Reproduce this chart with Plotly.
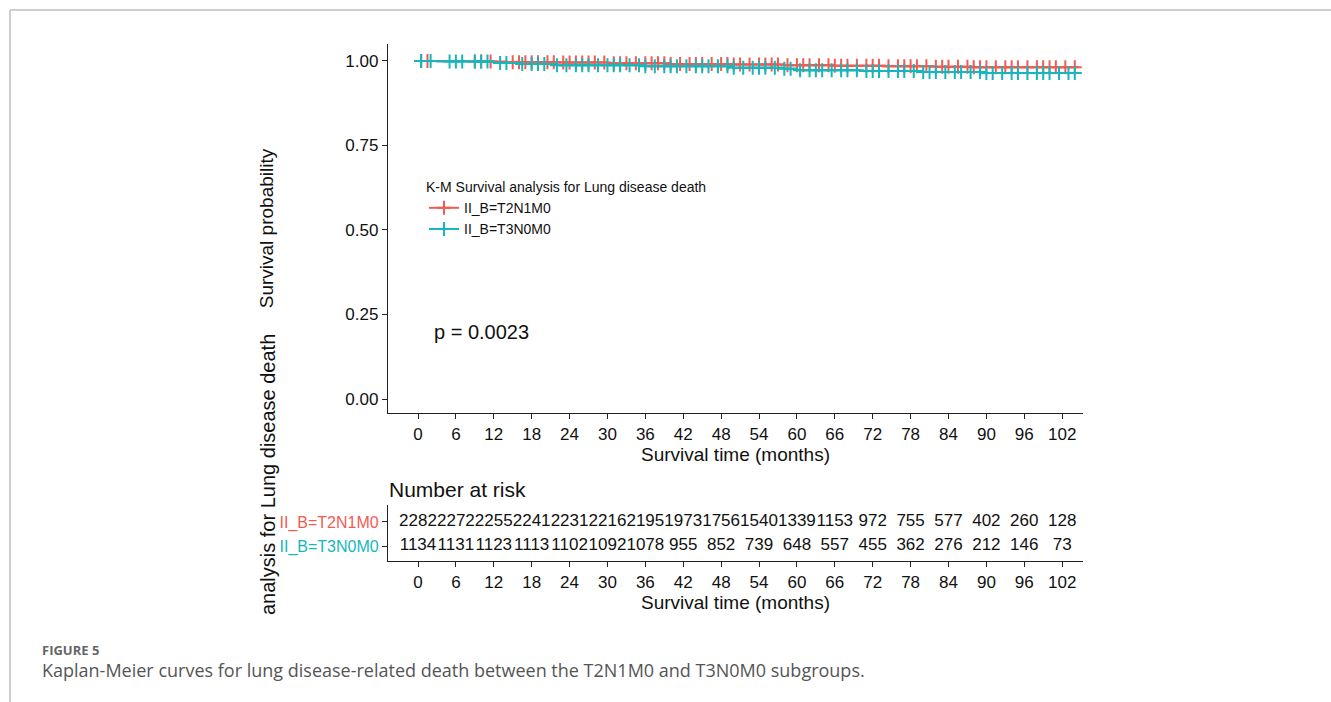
import numpy as np
import plotly.graph_objects as go

# ---------------- data ----------------
months_ticks = [0, 6, 12, 18, 24, 30, 36, 42, 48, 54, 60, 66, 72, 78, 84, 90, 96, 102]
groups = ["II_B=T2N1M0", "II_B=T3N0M0"]

# Kaplan-Meier step points (time, survival)
red_times = [0, 8, 14, 22, 30, 40, 50, 58, 66, 74, 82, 88, 104.6]
red_surv = [1.0, 0.998, 0.996, 0.995, 0.993, 0.991, 0.989, 0.987, 0.986, 0.984, 0.983, 0.981, 0.981]
teal_times = [0, 3, 12, 16, 22, 36, 50, 58, 60, 70, 80, 90, 104.6]
teal_surv = [1.0, 0.998, 0.994, 0.991, 0.987, 0.984, 0.980, 0.977, 0.972, 0.970, 0.967, 0.964, 0.964]

# censoring times
red_censor = [0.5, 1.5, 9, 10, 11.5, 15, 16, 17, 18, 19, 20.5, 21.5, 23, 24, 25, 26, 27, 28, 29.5, 31, 32, 33,
              34.5, 36, 37, 38, 39, 40, 41.5, 43, 44, 45, 46.5, 48, 49, 50, 51, 52.5, 54, 55, 56, 57, 58.5, 60,
              61, 62, 63.5, 65, 66, 67, 68, 69.5, 71, 72, 73, 74.5, 76, 77, 78, 79, 80.5, 82, 83, 84, 85.5, 87,
              88, 89, 90, 91.5, 93, 94, 95, 96.5, 98, 99, 100, 101, 102.5, 104]
teal_censor = [0.5, 2, 5, 6, 7, 9, 10, 11, 13, 14, 16.5, 18, 19, 20, 22, 23.5, 25, 26, 27, 28.5, 30, 31, 32,
               33.5, 35, 36, 37.5, 39, 40, 41, 42.5, 44, 45, 46, 47.5, 49, 50, 51.5, 53, 54, 55, 56.5, 58, 59,
               60.5, 62, 63, 64, 65.5, 67, 68, 69.5, 71, 72, 73, 74.5, 76, 77, 78.5, 80, 81, 82, 83.5, 85, 86,
               87.5, 89, 90, 91, 92.5, 94, 95, 96.5, 98, 99, 100, 101.5, 103, 104]

risk_red = [2282, 2272, 2255, 2241, 2231, 2216, 2195, 1973, 1756, 1540, 1339, 1153, 972, 755, 577, 402, 260, 128]
risk_teal = [1134, 1131, 1123, 1113, 1102, 1092, 1078, 955, 852, 739, 648, 557, 455, 362, 276, 212, 146, 73]

p_value_text = "p = 0.0023"

# ---------------- styling ----------------
RED = "#F35B52"
TEAL = "#16B7BC"
W, H = 1331, 702
FONT = "Liberation Sans, Arial"


def px_x(p):
    return p / W


def px_y(p):
    return 1 - p / H


def step_value(times, surv, t):
    idx = np.searchsorted(np.array(times), t, side="right") - 1
    return np.array(surv)[idx]


fig = go.Figure()

for name, times, surv, cens, col in [
    (groups[0], red_times, red_surv, red_censor, RED),
    (groups[1], teal_times, teal_surv, teal_censor, TEAL),
]:
    fig.add_trace(go.Scatter(x=times, y=surv, mode="lines", line=dict(color=col, width=2, shape="hv"),
                             showlegend=False, xaxis="x", yaxis="y"))
    fig.add_trace(go.Scatter(x=cens, y=step_value(times, surv, cens), mode="markers",
                             marker=dict(symbol="cross-thin", size=10, line=dict(color=col, width=2)),
                             showlegend=False, xaxis="x", yaxis="y"))
    fig.add_trace(go.Scatter(x=[None], y=[None], mode="lines+markers", name=name,
                             line=dict(color=col, width=2),
                             marker=dict(symbol="cross-thin", size=10, line=dict(color=col, width=2)),
                             xaxis="x", yaxis="y"))

# risk table numbers
fig.add_trace(go.Scatter(x=months_ticks, y=[2] * len(months_ticks), text=[str(v) for v in risk_red],
                         mode="text", textfont=dict(family=FONT, size=17, color="#111"),
                         showlegend=False, xaxis="x2", yaxis="y2"))
fig.add_trace(go.Scatter(x=months_ticks, y=[1] * len(months_ticks), text=[str(v) for v in risk_teal],
                         mode="text", textfont=dict(family=FONT, size=17, color="#111"),
                         showlegend=False, xaxis="x2", yaxis="y2"))

xrange = [-4.75, 105.3]
axis_common = dict(showline=True, linecolor="#222", linewidth=1.3, ticks="outside", ticklen=5,
                   tickcolor="#222", showgrid=False, zeroline=False,
                   tickfont=dict(family=FONT, size=17, color="#111"))

fig.update_layout(
    width=W, height=H,
    margin=dict(l=0, r=0, t=0, b=0),
    paper_bgcolor="white", plot_bgcolor="white",
    xaxis=dict(domain=[px_x(388), px_x(1083)], range=xrange, tickvals=months_ticks, anchor="y",
               title=dict(text="Survival time (months)", font=dict(family=FONT, size=19, color="#111"),
                          standoff=4),
               **axis_common),
    yaxis=dict(domain=[px_y(413), px_y(44)], range=[-0.0414, 1.050], tickvals=[0, 0.25, 0.5, 0.75, 1.0],
               ticktext=["0.00", "0.25", "0.50", "0.75", "1.00"], anchor="x",
               title=dict(text="Survival probability", font=dict(family=FONT, size=19, color="#111"),
                          standoff=66),
               **axis_common),
    xaxis2=dict(domain=[px_x(388), px_x(1083)], range=xrange, tickvals=months_ticks, anchor="y2",
                title=dict(text="Survival time (months)", font=dict(family=FONT, size=19, color="#111"),
                           standoff=4),
                **axis_common),
    yaxis2=dict(domain=[px_y(561), px_y(505)], range=[0.375, 2.708], tickvals=[2, 1],
                ticktext=[f'<span style="color:{RED}">{groups[0]}</span>',
                          f'<span style="color:{TEAL}">{groups[1]}</span>'],
                anchor="x2", **{k: v for k, v in axis_common.items() if k != "tickfont"},
                tickfont=dict(family=FONT, size=16, color="#111")),
    legend=dict(x=px_x(424), y=px_y(174), xanchor="left", yanchor="top",
                bgcolor="rgba(0,0,0,0)",
                title=dict(text="K-M Survival analysis for Lung disease death",
                           font=dict(family=FONT, size=14, color="#111")),
                font=dict(family=FONT, size=14, color="#111"), itemwidth=30),
    showlegend=True,
)

annotations = [
    dict(text=p_value_text, x=2.2, y=0.198, xref="x", yref="y", xanchor="left", yanchor="middle",
         showarrow=False, font=dict(family=FONT, size=20, color="#111")),
    dict(text="Number at risk", x=px_x(387), y=px_y(489), xref="paper", yref="paper", xanchor="left",
         yanchor="middle", showarrow=False, font=dict(family=FONT, size=21, color="#111")),
    dict(text="analysis for Lung disease death", x=px_x(268), y=px_y(475), xref="paper", yref="paper",
         textangle=-90, xanchor="center", yanchor="middle", showarrow=False,
         font=dict(family=FONT, size=20, color="#111")),
    dict(text="<b>FIGURE 5</b>", x=px_x(41), y=px_y(649.5), xref="paper", yref="paper", xanchor="left",
         yanchor="middle", showarrow=False, borderpad=0,
         font=dict(family="Open Sans", size=13, color="#666")),
    dict(text="Kaplan-Meier curves for lung disease-related death between the T2N1M0 and T3N0M0 subgroups.",
         x=px_x(41), y=px_y(670), xref="paper", yref="paper", xanchor="left", yanchor="middle",
         showarrow=False, borderpad=0, font=dict(family="Open Sans", size=18, color="#555")),
]
fig.update_layout(annotations=annotations)

fig.update_layout(shapes=[
    dict(type="line", xref="paper", yref="paper", x0=px_x(10), x1=1, y0=px_y(10), y1=px_y(10),
         line=dict(color="#cfcfcf", width=2)),
    dict(type="line", xref="paper", yref="paper", x0=px_x(10), x1=px_x(10), y0=px_y(10), y1=0,
         line=dict(color="#cfcfcf", width=2)),
])

fig.write_html("out.html", config={"displayModeBar": False},
               post_script="document.body.style.margin='0px';")
